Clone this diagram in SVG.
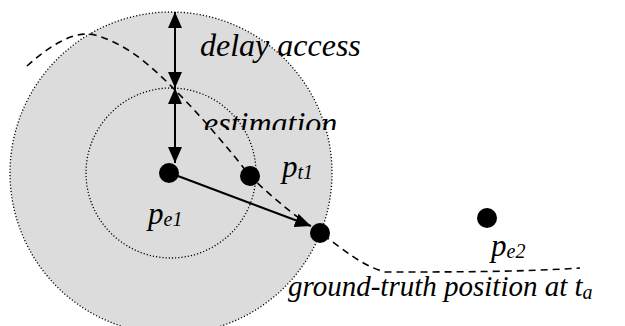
<svg xmlns="http://www.w3.org/2000/svg" width="625" height="326" viewBox="0 0 625 326">
<style>
.t{font-family:'Liberation Serif','Times New Roman',serif;font-style:italic;fill:#000}
.dot{fill:#000}
.ring{stroke:#000;stroke-width:1.3;stroke-dasharray:1.2 2}
</style>
<defs>
<marker id="ah" viewBox="0 0 16 14" refX="16" refY="7" markerWidth="16" markerHeight="14" markerUnits="userSpaceOnUse" orient="auto-start-reverse">
<path d="M0,0 L16,7 L0,14 Z" fill="#000"/>
</marker>
<clipPath id="clipEst"><rect x="190" y="100" width="160" height="30"/></clipPath>
</defs>
<g id="outer-circle"><circle cx="171" cy="173" r="161" fill="#dcdcdc" class="ring"/></g>
<g id="inner-circle"><circle cx="171" cy="173" r="85" fill="none" class="ring"/></g>
<g id="connectors" stroke="#000" fill="none">
<path d="M27,66 C50,45 75,30 95,35 C130,45 155,70 175,90 C200,115 230,150 250,176 C275,200 300,220 320,233 C345,250 360,265 385,272 C450,272 520,272 580,268" stroke-width="1.6" stroke-dasharray="7 5"/>
<line x1="175" y1="12" x2="175" y2="88" stroke-width="2" marker-start="url(#ah)" marker-end="url(#ah)"/>
<line x1="175" y1="88" x2="175" y2="163" stroke-width="2" marker-start="url(#ah)" marker-end="url(#ah)"/>
<line x1="170" y1="173" x2="311" y2="226" stroke-width="2" marker-end="url(#ah)"/>
</g>
<g id="pe1"><circle class="dot" cx="169" cy="173" r="10"/><text class="t" x="148" y="224" font-size="31">p<tspan font-size="20" dy="2">e1</tspan></text></g>
<g id="pt1"><circle class="dot" cx="250" cy="176" r="10"/><text class="t" x="282" y="177" font-size="31">p<tspan font-size="20" dy="2">t1</tspan></text></g>
<g id="ground-truth"><circle class="dot" cx="320" cy="233" r="10"/><text class="t" x="288" y="296" font-size="29">ground-truth position at t<tspan font-size="20" dy="3">a</tspan></text></g>
<g id="pe2"><circle class="dot" cx="487" cy="218" r="10"/><text class="t" x="491" y="256" font-size="31">p<tspan font-size="20" dy="2">e2</tspan></text></g>
<g id="labels">
<text class="t" x="200" y="56" font-size="32">delay access</text>
<text class="t" x="204" y="134" font-size="32" clip-path="url(#clipEst)">estimation</text>
</g>
</svg>
